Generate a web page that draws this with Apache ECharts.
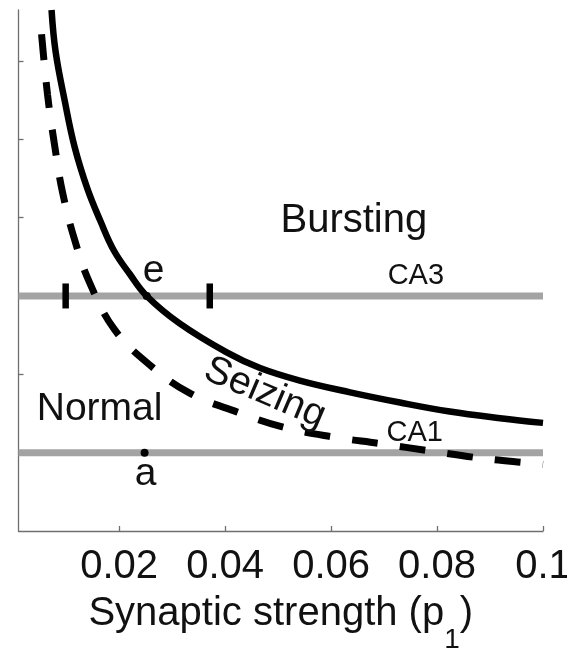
<!DOCTYPE html>
<html><head><meta charset="utf-8">
<script src="https://cdn.jsdelivr.net/npm/echarts@6/dist/echarts.min.js"></script>
<style>html,body{margin:0;padding:0;background:#fff}#c{width:567px;height:652px}</style>
</head><body><div id="c"></div>
<script>
// ---- data ----
const xTicks = [0.02, 0.04, 0.06, 0.08, 0.1];
const yTicks = [1, 2, 3, 4, 5, 6];
const xRange = [0.001, 0.1];
const yRange = [0, 6.65];

// solid boundary (Bursting / Seizing)
const solidX = [0.00724, 0.0080, 0.0097, 0.0116, 0.0140, 0.0165, 0.0190, 0.0220, 0.0252, 0.0314, 0.0403, 0.0466, 0.0541, 0.0636, 0.0730, 0.0824, 0.0919, 0.1];
const solidY = [6.65, 6.12, 5.50, 4.90, 4.37, 3.95, 3.58, 3.28, 3.00, 2.65, 2.28, 2.08, 1.92, 1.77, 1.64, 1.525, 1.44, 1.38];

// dashed boundary (Seizing / Normal)
const dashX = [0.00535, 0.00648, 0.0078, 0.00932, 0.01158, 0.01442, 0.01914, 0.02576, 0.03332, 0.0422, 0.05127, 0.06034, 0.06941, 0.07885, 0.0883, 0.09775, 0.1];
const dashY = [6.34, 5.57, 4.93, 4.32, 3.72, 3.17, 2.57, 2.12, 1.76, 1.52, 1.32, 1.20, 1.115, 1.02, 0.93, 0.865, 0.85];

// horizontal reference levels
const levelNames = ['CA3', 'CA1'];
const levelY = [3, 1];

// short vertical bars on CA3 line
const barX = [0.0099, 0.0371];
const barY = [3, 3];

// labelled points
const pointNames = ['e', 'a'];
const pointX = [0.0252, 0.0248];
const pointY = [3, 1];

// annotation texts (data coordinates)
const annoText = ['Bursting', 'CA3', 'e', 'Normal', 'Seizing', 'CA1', 'a'];
const annoX = [0.0643, 0.0760, 0.0265, 0.0163, 0.0475, 0.0758, 0.0250];
const annoY = [3.96, 3.26, 3.31, 1.56, 1.76, 1.25, 0.73];

// ---- chart ----
const FONT = '"Liberation Sans", Arial, Helvetica, sans-serif';
const TXT = '#111111';
const AX = '#6f6f6f';
const GREY = '#a3a3a3';

const pairs = (xs, ys) => xs.map((x, i) => [x, ys[i]]);

const annoStyle = {
  'Bursting': { fontSize: 40 },
  'Normal': { fontSize: 39 },
  'Seizing': { fontSize: 39, rotate: -23 },
  'CA3': { fontSize: 29 },
  'CA1': { fontSize: 29 },
  'e': { fontSize: 39 },
  'a': { fontSize: 39 }
};

const series = [];
levelY.forEach((y, i) => {
  series.push({
    type: 'line', name: levelNames[i], symbol: 'none', silent: true,
    data: [[xRange[0], y], [xRange[1], y]],
    lineStyle: { color: GREY, width: 7, cap: 'butt', opacity: 1 }, z: 1
  });
});
series.push({
  type: 'line', name: 'bursting boundary', symbol: 'none', smooth: 0.4, silent: true,
  data: pairs(solidX, solidY),
  lineStyle: { color: '#000', width: 6.5, opacity: 1 }, z: 3
});
series.push({
  type: 'line', name: 'seizing boundary', symbol: 'none', smooth: 0.4, silent: true,
  data: pairs(dashX, dashY),
  lineStyle: { color: '#000', width: 7, type: [26, 22], cap: 'butt', opacity: 1 }, z: 3
});
series.push({
  type: 'scatter', name: 'bars', symbol: 'rect', symbolSize: [6.5, 25], silent: true,
  data: pairs(barX, barY), itemStyle: { color: '#000', opacity: 1 }, z: 4
});
series.push({
  type: 'scatter', name: 'points', symbol: 'circle', symbolSize: 8, silent: true,
  data: pointX.map((x, i) => ({ name: pointNames[i], value: [x, pointY[i]] })),
  itemStyle: { color: '#000', opacity: 1 }, z: 5
});
series.push({
  type: 'scatter', name: 'annotations', symbolSize: 0, silent: true, z: 6,
  itemStyle: { opacity: 1 },
  data: annoText.map((t, i) => ({
    name: t, value: [annoX[i], annoY[i]],
    label: Object.assign({}, annoStyle[t])
  })),
  label: {
    show: true, position: 'inside', formatter: p => p.name, opacity: 1,
    color: TXT, fontFamily: FONT, align: 'center', verticalAlign: 'middle'
  }
});

const chart = echarts.init(document.getElementById('c'), null, { renderer: 'canvas' });
chart.setOption({
  backgroundColor: '#fff',
  animation: false,
  grid: { left: 18.5, right: 24, top: 10, bottom: 121, containLabel: false, outerBoundsMode: 'none' },
  xAxis: {
    type: 'value', min: xRange[0], max: xRange[1],
    axisLine: { show: true, lineStyle: { color: AX, width: 1.3 } },
    axisTick: { show: true, inside: true, length: 5, customValues: xTicks, lineStyle: { color: AX, width: 1.3 } },
    axisLabel: {
      customValues: xTicks, margin: 16, color: TXT, fontFamily: FONT, fontSize: 40,
      formatter: v => String(+v.toFixed(2))
    },
    splitLine: { show: false },
    name: 'Synaptic strength (p{sub|1})',
    nameLocation: 'middle', nameGap: 63,
    nameTextStyle: {
      color: TXT, fontFamily: FONT, fontSize: 40, lineHeight: 40, verticalAlign: 'top',
      rich: { sub: { fontSize: 28, lineHeight: 28, fontFamily: FONT, color: TXT, verticalAlign: 'top', padding: [32, 0, 0, 0] } }
    }
  },
  yAxis: {
    type: 'value', min: yRange[0], max: yRange[1],
    axisLine: { show: true, lineStyle: { color: AX, width: 1.3 } },
    axisTick: { show: true, inside: true, length: 5, customValues: yTicks, lineStyle: { color: AX, width: 1.3 } },
    axisLabel: { show: false },
    splitLine: { show: false }
  },
  series: series
});
</script>
</body></html>
